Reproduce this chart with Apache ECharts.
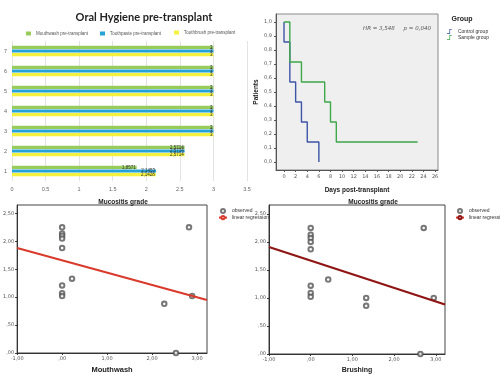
<!DOCTYPE html>
<html>
<head>
<meta charset="utf-8">
<script src="https://cdn.jsdelivr.net/npm/echarts@6/dist/echarts.min.js"></script>
<style>
  html, body { margin: 0; padding: 0; background: #fff; }
  #main { width: 500px; height: 375px; }
</style>
</head>
<body>
<div id="main"></div>
<script>
// bar chart - oral hygiene
var barCats = ['1', '2', '3', '4', '5', '6', '7'];
var mouthwash = [1.8571, 2.5714, 3, 3, 3, 3, 3];
var toothpaste = [2.1453, 2.5714, 3, 3, 3, 3, 3];
var toothbrush = [2.1428, 2.5714, 3, 3, 3, 3, 3];

// survival curves [day, proportion]
var controlGroup = [[0, 1], [0, 0.857], [1, 0.571], [2, 0.429], [3, 0.286], [4, 0.143], [6, 0]];
var sampleGroup = [[0, 1], [1, 0.714], [3, 0.571], [7, 0.429], [8, 0.286], [9, 0.143], [23, 0.143]];
var dayTicks = [0, 2, 4, 6, 8, 10, 12, 14, 16, 18, 20, 22, 24, 26];
var propTicks = [0, 0.1, 0.2, 0.3, 0.4, 0.5, 0.6, 0.7, 0.8, 0.9, 1];

// mucositis grade scatter
var mouthwashObs = [[0, 2.25], [0, 2.14], [0, 2.1], [0, 2.05], [0, 1.88], [0, 1.21], [0, 1.07], [0, 1.02],
  [0.22, 1.33], [2.82, 2.25], [2.27, 0.88], [2.53, 0], [2.89, 1.02]];
var mouthwashFit = [[-1, 1.88], [3.22, 0.95]];
var brushingObs = [[0, 2.25], [0, 2.13], [0, 2.07], [0, 2.0], [0, 1.87], [0, 1.22], [0, 1.09], [0, 1.02],
  [0.42, 1.33], [1.33, 1.0], [1.33, 0.86], [2.71, 2.25], [2.63, 0], [2.95, 1.0]];
var brushingFit = [[-1, 1.91], [3.22, 0.885]];
var gradeTicks = [0, 0.5, 1, 1.5, 2, 2.5];
var scoreTicks = [-1, 0, 1, 2, 3];

function spss(v) {   // ,50  1,00  -1,00
  var s = v.toFixed(2).replace('.', ',');
  return s.replace(/^0,/, ',').replace(/^-0,/, '-,');
}
function comma(v) { return String(v).replace('.', ','); }

var tickLbl = { fontSize: 5, color: '#555', fontFamily: 'DejaVu Sans' };
var boldName = { fontSize: 6.5, fontWeight: 'bold', color: '#222', fontFamily: 'Liberation Sans' };
var smallLeg = { fontSize: 5, color: '#333', fontFamily: 'Liberation Sans' };

var myChart = echarts.init(document.getElementById('main'));
var option = {
  animation: false,
  backgroundColor: '#fff',
  title: [
    { text: 'Oral Hygiene pre-transplant', left: 139, top: 7, textAlign: 'center',
      textStyle: { fontSize: 11, fontWeight: 'bold', fontFamily: 'Lato', color: '#222' } },
    { text: 'HR = 3,548     p = 0,040', left: 358, top: 21,
      textStyle: { fontSize: 5.5, fontStyle: 'italic', fontWeight: 'normal', color: '#555', fontFamily: 'DejaVu Sans' } },
    { text: 'Group', left: 457, top: 11, textAlign: 'center',
      textStyle: { fontSize: 7, fontWeight: 'bold', color: '#222', fontFamily: 'Liberation Sans' } },
    { text: 'Mucositis grade', left: 118, top: 194, textAlign: 'center', textStyle: boldName },
    { text: 'Mucositis grade', left: 368, top: 194, textAlign: 'center', textStyle: boldName }
  ],
  legend: [
    { data: ['Mouthwash pre-transplant'], left: 21, top: 26, itemWidth: 5, itemHeight: 4, icon: 'rect', itemGap: 3,
      textStyle: { fontSize: 4.5, color: '#555', fontFamily: 'Liberation Sans' } },
    { data: ['Toothpaste pre-transplant'], left: 95, top: 26, itemWidth: 5, itemHeight: 4, icon: 'rect',
      textStyle: { fontSize: 4.5, color: '#555', fontFamily: 'Liberation Sans' } },
    { data: ['Toothbrush pre-transplant'], left: 169, top: 25, itemWidth: 5, itemHeight: 4, icon: 'rect',
      textStyle: { fontSize: 4.5, color: '#555', fontFamily: 'Liberation Sans' } },
    { data: ['Control group', 'Sample group'], orient: 'vertical', left: 442, top: 24, itemGap: 1,
      itemWidth: 7, itemHeight: 5, icon: 'path://M0,9 L5,9 L5,0 L10,0 L10,1.5 L6.5,1.5 L6.5,10.5 L0,10.5 Z',
      textStyle: smallLeg },
    { data: [{ name: 'observed', icon: 'emptyCircle' }, { name: 'linear regression', itemStyle: { color: '#d93a2b' } }],
      orient: 'vertical', left: 213, top: 203, itemGap: 1, itemWidth: 8, itemHeight: 4,
      textStyle: smallLeg },
    { data: [{ name: 'observed', icon: 'emptyCircle' }, { name: 'linear regression', itemStyle: { color: '#8f1414' } }],
      orient: 'vertical', left: 450, top: 203, itemGap: 1, itemWidth: 8, itemHeight: 4,
      textStyle: smallLeg }
  ],
  grid: [
    { left: 12, top: 41, width: 235, height: 140 },
    { left: 276, top: 14, width: 162, height: 156, show: true, backgroundColor: '#efefef', borderColor: '#8a8a8a', borderWidth: 1 },
    { left: 17, top: 205, width: 190, height: 151, show: true, backgroundColor: '#fff', borderColor: '#444', borderWidth: 1 },
    { left: 269, top: 205, width: 176, height: 153, show: true, backgroundColor: '#fff', borderColor: '#444', borderWidth: 1 }
  ],
  xAxis: [
    { gridIndex: 0, type: 'value', min: 0, max: 3.5, interval: 0.5,
      axisLine: { show: false }, axisTick: { show: false },
      axisLabel: { fontSize: 5.5, color: '#666', margin: 5, fontFamily: 'Liberation Sans' },
      splitLine: { lineStyle: { color: '#dcdcdc', width: 0.8 } } },
    { gridIndex: 1, type: 'value', min: -1.38, max: 26.5,
      name: 'Days post-transplant', nameLocation: 'middle', nameGap: 17, nameTextStyle: boldName,
      axisLine: { onZero: false, lineStyle: { color: '#555' } },
      axisTick: { length: 2, customValues: dayTicks, lineStyle: { color: '#555' } },
      axisLabel: Object.assign({ customValues: dayTicks, margin: 4 }, tickLbl),
      splitLine: { show: false } },
    { gridIndex: 2, type: 'value', min: -1, max: 3.22,
      name: 'Mouthwash', nameLocation: 'middle', nameGap: 13,
      nameTextStyle: { fontSize: 7.5, fontWeight: 'bold', color: '#222', fontFamily: 'Liberation Sans' },
      axisLine: { onZero: false, lineStyle: { color: '#333' } },
      axisTick: { length: 2, customValues: scoreTicks, lineStyle: { color: '#333' } },
      axisLabel: Object.assign({ customValues: scoreTicks, formatter: spss, margin: 3 }, tickLbl),
      splitLine: { show: false } },
    { gridIndex: 3, type: 'value', min: -1, max: 3.22,
      name: 'Brushing', nameLocation: 'middle', nameGap: 13,
      nameTextStyle: { fontSize: 7, fontWeight: 'bold', color: '#222', fontFamily: 'Liberation Sans' },
      axisLine: { onZero: false, lineStyle: { color: '#333' } },
      axisTick: { length: 2, customValues: scoreTicks, lineStyle: { color: '#333' } },
      axisLabel: Object.assign({ customValues: scoreTicks, formatter: spss, margin: 3 }, tickLbl),
      splitLine: { show: false } }
  ],
  yAxis: [
    { gridIndex: 0, type: 'category', data: barCats,
      axisLine: { show: false }, axisTick: { show: false },
      axisLabel: { fontSize: 5.5, color: '#666', margin: 5, fontFamily: 'Liberation Sans' } },
    { gridIndex: 1, type: 'value', min: -0.057, max: 1.057,
      name: 'Patients', nameLocation: 'middle', nameGap: 12, nameTextStyle: boldName,
      axisLine: { show: true, onZero: false, lineStyle: { color: '#555' } },
      axisTick: { show: true, length: 2, customValues: propTicks, lineStyle: { color: '#555' } },
      axisLabel: Object.assign({ customValues: propTicks, margin: 4,
        formatter: function (v) { return v.toFixed(1).replace('.', ','); } }, tickLbl),
      splitLine: { show: false } },
    { gridIndex: 2, type: 'value', min: 0, max: 2.65,
      axisLine: { show: true, onZero: false, lineStyle: { color: '#333' } },
      axisTick: { show: true, length: 2, customValues: gradeTicks, lineStyle: { color: '#333' } },
      axisLabel: Object.assign({ customValues: gradeTicks, formatter: spss, margin: 3 }, tickLbl),
      splitLine: { show: false } },
    { gridIndex: 3, type: 'value', min: 0, max: 2.66,
      axisLine: { show: true, onZero: false, lineStyle: { color: '#333' } },
      axisTick: { show: true, length: 2, customValues: gradeTicks, lineStyle: { color: '#333' } },
      axisLabel: Object.assign({ customValues: gradeTicks, formatter: spss, margin: 3 }, tickLbl),
      splitLine: { show: false } }
  ],
  series: [
    { name: 'Mouthwash pre-transplant', type: 'bar', xAxisIndex: 0, yAxisIndex: 0, data: mouthwash,
      barWidth: 3.2, barGap: '12%', itemStyle: { color: '#97cc5c' },
      label: { show: true, position: 'insideRight', distance: 1, fontSize: 4.5, color: '#333', formatter: function (p) { return comma(p.value); } } },
    { name: 'Toothpaste pre-transplant', type: 'bar', xAxisIndex: 0, yAxisIndex: 0, data: toothpaste,
      barWidth: 3.2, barGap: '12%', itemStyle: { color: '#25a3d8' },
      label: { show: true, position: 'insideRight', distance: 1, fontSize: 4.5, color: '#333', formatter: function (p) { return comma(p.value); } } },
    { name: 'Toothbrush pre-transplant', type: 'bar', xAxisIndex: 0, yAxisIndex: 0, data: toothbrush,
      barWidth: 3.2, barGap: '12%', itemStyle: { color: '#f4f23e' },
      label: { show: true, position: 'insideRight', distance: 1, fontSize: 4.5, color: '#333', formatter: function (p) { return comma(p.value); } } },
    { name: 'Control group', type: 'line', xAxisIndex: 1, yAxisIndex: 1, data: controlGroup, step: 'end',
      showSymbol: false, itemStyle: { color: '#3d55a6' }, lineStyle: { color: '#3d55a6', width: 1.4 } },
    { name: 'Sample group', type: 'line', xAxisIndex: 1, yAxisIndex: 1, data: sampleGroup, step: 'end',
      showSymbol: false, itemStyle: { color: '#3ea84a' }, lineStyle: { color: '#3ea84a', width: 1.4 } },
    { name: 'observed', type: 'scatter', xAxisIndex: 2, yAxisIndex: 2, data: mouthwashObs,
      symbol: 'emptyCircle', symbolSize: 4.5, itemStyle: { color: '#555', borderWidth: 0.6 } },
    { name: 'linear regression', type: 'line', xAxisIndex: 2, yAxisIndex: 2, data: mouthwashFit,
      showSymbol: false, itemStyle: { color: '#d93a2b' }, lineStyle: { color: '#d93a2b', width: 2 } },
    { name: 'observed', type: 'scatter', xAxisIndex: 3, yAxisIndex: 3, data: brushingObs,
      symbol: 'emptyCircle', symbolSize: 4.5, itemStyle: { color: '#555', borderWidth: 0.6 } },
    { name: 'linear regression', type: 'line', xAxisIndex: 3, yAxisIndex: 3, data: brushingFit,
      showSymbol: false, itemStyle: { color: '#8f1414' }, lineStyle: { color: '#8f1414', width: 2.2 } }
  ]
};
myChart.setOption(option);
</script>
</body>
</html>
